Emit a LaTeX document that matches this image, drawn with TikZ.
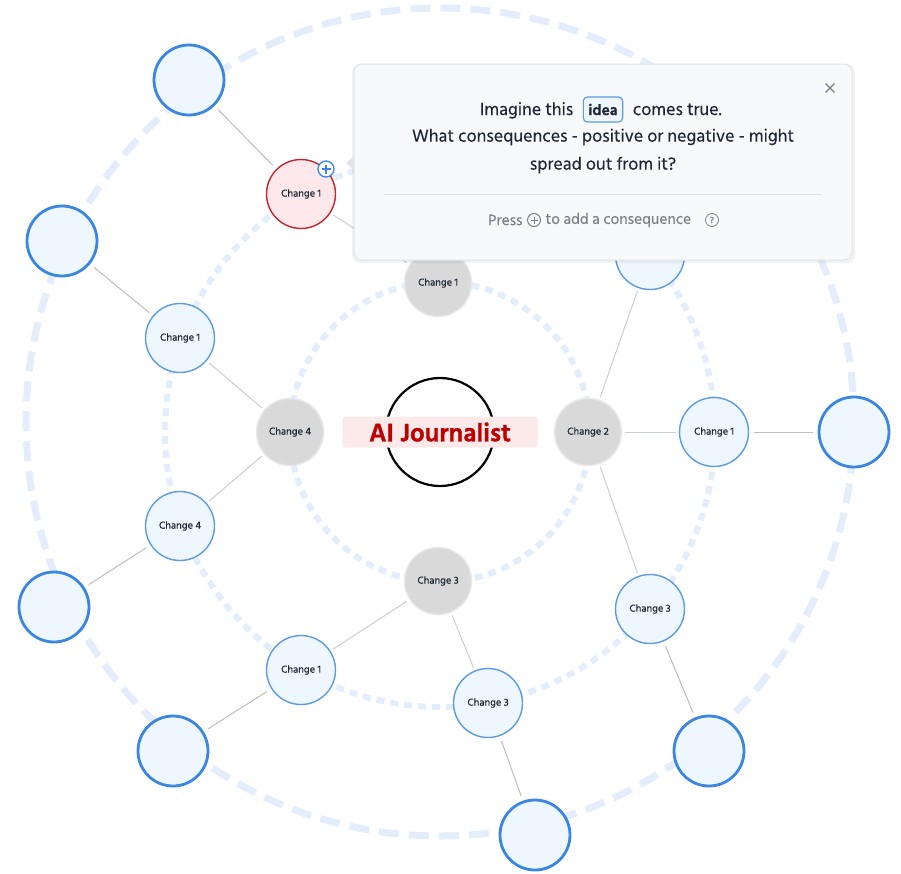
\documentclass[tikz,border=0pt]{standalone}
\usepackage{fontspec}
\setmainfont{Hind Siliguri}[FakeBold=0.35,BoldFeatures={FakeBold=1.2}]
\usetikzlibrary{positioning}
\definecolor{ringblue}{HTML}{E3EDFC}
\definecolor{nodeblue}{HTML}{EEF6FF}
\definecolor{edgeblue}{HTML}{5B9BE3}
\definecolor{leafblue}{HTML}{3A86E0}
\definecolor{coregray}{HTML}{D9D9D9}
\definecolor{coreedge}{HTML}{E8E8E8}
\definecolor{selred}{HTML}{C2272D}
\definecolor{selfill}{HTML}{FCE8EA}
\definecolor{titlered}{HTML}{C00000}
\definecolor{titlefill}{HTML}{FCE9E9}
\definecolor{linkgray}{HTML}{C9CDD6}
\definecolor{leafgray}{HTML}{BDBDBD}
\definecolor{inkdark}{HTML}{1F2633}
\definecolor{inkgray}{HTML}{7A7F88}
\definecolor{popfill}{HTML}{F8F9FB}
\definecolor{popedge}{HTML}{E1E3E7}

\begin{document}
\begin{tikzpicture}[x=1pt,y=-1pt]
  \tikzset{
    ring/.style={draw=ringblue,line width=6pt,dash pattern=on 8pt off 6pt},
    outer ring/.style={draw=ringblue,line width=7pt,dash pattern=on 20pt off 10pt},
    core/.style={circle,fill=coregray,draw=coreedge,line width=1.5pt,minimum size=67pt,inner sep=0pt,text=inkdark,font=\fontsize{10.5}{12}\selectfont},
    change/.style={circle,fill=nodeblue,draw=edgeblue,line width=1.4pt,minimum size=69pt,inner sep=0pt,text=inkdark,font=\fontsize{10.5}{12}\selectfont},
    selected/.style={change,fill=selfill,draw=selred},
    leaf/.style={circle,fill=nodeblue,draw=leafblue,line width=2.8pt,minimum size=70pt,inner sep=0pt},
    link/.style={draw=linkgray,line width=1pt,shorten <=3pt,shorten >=3pt},
    leaflink/.style={draw=leafgray,line width=1pt,shorten <=5pt,shorten >=5pt},
    poptext/.style={text=inkdark,font=\fontsize{18}{21}\selectfont},
    hinttext/.style={text=inkgray,font=\fontsize{15.5}{18}\selectfont}
  }
  \useasboundingbox (0,0) rectangle (901,873);
  % rings
  \draw[outer ring] (440,422) circle[radius=414pt];
  \draw[ring] (440,432) circle[radius=275pt];
  \draw[ring] (440,432) circle[radius=150pt];
  % nodes
  \node[circle,draw=black,line width=2.2pt,minimum size=108pt] (core) at (440,432) {};
  \node[fill=titlefill,rounded corners=3pt,minimum width=195pt,minimum height=31pt,
    text=titlered,font=\fontsize{26}{28}\selectfont\bfseries] (title) at (440,432) {AI Journalist};
  \node[core] (c1) at (438,283) {Change 1};
  \node[core] (c2) at (588,432) {Change 2};
  \node[core] (c3) at (438,581) {Change 3};
  \node[core] (c4) at (290,432) {Change 4};
  \node[selected] (c1-1) at (301,194) {Change 1};
  \node[change] (c2-1) at (650,255) {};
  \node[change] (c2-2) at (714,432) {Change 1};
  \node[change] (c2-3) at (650,609) {Change 3};
  \node[change] (c3-1) at (301,670) {Change 1};
  \node[change] (c3-2) at (488,703) {Change 3};
  \node[change] (c4-1) at (180,338) {Change 1};
  \node[change] (c4-2) at (180,526) {Change 4};
  \node[leaf] (l1-1) at (189,80) {};
  \node[leaf] (l2-2) at (854,432) {};
  \node[leaf] (l2-3) at (709,751) {};
  \node[leaf] (l3-1) at (173,751) {};
  \node[leaf] (l3-2) at (535,835) {};
  \node[leaf] (l4-1) at (62,241) {};
  \node[leaf] (l4-2) at (54,607) {};
  \node[circle,fill=white,draw=leafblue,line width=1.3pt,minimum size=16pt,inner sep=0pt] (add) at (326,169) {};
  \draw[leafblue,line width=1.4pt] (add.center) +(-4.5,0) -- +(4.5,0) (add.center) +(0,-4.5) -- +(0,4.5);
  % connectors
  \path[link] (c1) -- (c1-1);
  \path[link] (c2) -- (c2-1);
  \path[link] (c2) -- (c2-2);
  \path[link] (c2) -- (c2-3);
  \path[link] (c3) -- (c3-1);
  \path[link] (c3) -- (c3-2);
  \path[link] (c4) -- (c4-1);
  \path[link] (c4) -- (c4-2);
  \path[leaflink] (c1-1) -- (l1-1);
  \path[leaflink] (c2-2) -- (l2-2);
  \path[leaflink] (c2-3) -- (l2-3);
  \path[leaflink] (c3-1) -- (l3-1);
  \path[leaflink] (c3-2) -- (l3-2);
  \path[leaflink] (c4-1) -- (l4-1);
  \path[leaflink] (c4-2) -- (l4-2);
  % popup
  \fill[black,opacity=0.05,rounded corners=8pt] (352,64) rectangle (855,263);
  \fill[popedge] (354,156) -- (346,163) -- (354,170) -- cycle;
  \draw[popedge,fill=popfill,line width=1pt,rounded corners=8pt] (354,64) rectangle (852,260);
  \node[draw=edgeblue,fill=nodeblue,rounded corners=4pt,line width=1.2pt,inner xsep=5pt,inner ysep=0pt,
    minimum height=25pt,text=inkdark,font=\fontsize{15.5}{18}\selectfont\bfseries] (idea) at (603,109.5) {idea};
  \node[base left=6pt of idea,poptext] (imagine) {Imagine this};
  \node[base right=6pt of idea,poptext] (comes) {comes true.};
  \node[poptext] (what) at (603,137) {What consequences - positive or negative - might};
  \node[poptext] (spread) at (603,165) {spread out from it?};
  \draw[popedge,line width=1pt] (384,194) -- (822,194);
  \node[circle,draw=inkgray,line width=1pt,minimum size=13pt,inner sep=0pt] (press plus) at (534,220) {};
  \draw[inkgray,line width=1pt] (press plus.center) +(-3.5,0) -- +(3.5,0) (press plus.center) +(0,-3.5) -- +(0,3.5);
  \node[left=1pt of press plus,hinttext] (press) {Press};
  \node[right=1pt of press plus,hinttext] (to add) {to add a consequence};
  \node[circle,draw=inkgray,line width=0.8pt,minimum size=13pt,inner sep=0pt,text=inkgray,
    font=\fontsize{9}{10}\selectfont] (help) at (712,220) {?};
  \node (close) at (830,88) {};
  \draw[inkgray,line width=1.2pt] (close.center) +(-4.5,-4.5) -- +(4.5,4.5) (close.center) +(-4.5,4.5) -- +(4.5,-4.5);
\end{tikzpicture}
\end{document}
